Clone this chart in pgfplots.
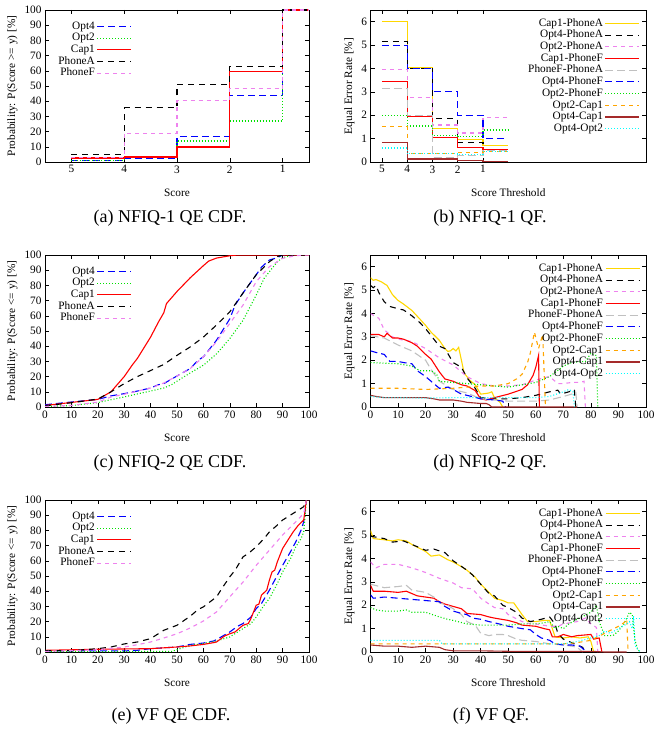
\documentclass[border=0pt]{standalone}
\usepackage{fontspec}
\setmainfont{Liberation Serif}
\usepackage{pgfplots}
\pgfplotsset{compat=1.18}

\definecolor{gpblue}{RGB}{0,0,255}
\definecolor{gpgreen}{RGB}{0,225,0}
\definecolor{gpred}{RGB}{255,0,0}
\definecolor{gpviolet}{RGB}{238,130,238}
\definecolor{gpgold}{RGB}{255,215,0}
\definecolor{gpgray}{RGB}{192,192,192}
\definecolor{gporange}{RGB}{255,165,0}
\definecolor{gpbrown}{RGB}{165,42,42}
\definecolor{gpcyan}{RGB}{0,255,255}

% line styles (tikz level, so the legend images get them too)
\tikzset{
  s-opt4/.style={gpblue, dash pattern=on 7pt off 4pt},
  s-opt2/.style={gpgreen, dash pattern=on 1pt off 2pt},
  s-cap1/.style={gpred},
  s-phonea/.style={black, dash pattern=on 6pt off 5pt},
  s-phonef/.style={gpviolet, dash pattern=on 4pt off 4pt},
  p-capa/.style={gpgold},
  p-ofpa/.style={black, dash pattern=on 6pt off 5pt},
  p-otpa/.style={gpviolet, dash pattern=on 4pt off 4pt},
  p-capf/.style={gpred},
  p-pfpa/.style={gpgray, dash pattern=on 8pt off 4pt},
  p-ofpf/.style={gpblue, dash pattern=on 7pt off 4pt},
  p-otpf/.style={gpgreen, dash pattern=on 1pt off 2pt},
  p-otca/.style={gporange, dash pattern=on 4pt off 4pt},
  p-ofca/.style={gpbrown},
  p-ofot/.style={gpcyan, dash pattern=on 1pt off 2pt},
}

\pgfplotsset{
  legend image code/.code={\draw[line width=1.1pt,#1] (0pt,0pt) -- (34pt,0pt);},
  panel/.style={
    scale only axis, anchor=north west, height=152pt,
    /pgf/number format/assume math mode=true,
    font=\fontsize{11.3}{12}\selectfont,
    major tick length=4pt,
    tick style={black, line width=0.5pt},
    axis line style={line width=0.6pt},
    every axis plot/.append style={line width=1.1pt},
    legend plot pos=right,
    legend cell align=right,
    legend style={draw=none, fill=none, font=\fontsize{11.3}{12}\selectfont,
      column sep=1pt,
      nodes={inner sep=1pt, text height=7.6pt, text depth=2.1pt}},
    xlabel style={yshift=-9pt},
  },
  cdf/.style={panel, width=264pt,
    legend style={at={(0.035,0.945)}, anchor=north west}},
  qf/.style={panel, width=275.5pt, ymin=0, ymax=6.5, ytick={0,1,...,6},
    ylabel={Equal Error Rate [\%]}, xlabel={Score Threshold},
    legend style={at={(0.99,0.965)}, anchor=north east}},
}

\begin{document}
\begin{tikzpicture}
\useasboundingbox (0pt,0pt) rectangle (655pt,-730pt);

% (a) NFIQ-1 QE CDF
\begin{axis}[cdf, at={(45pt,-10pt)}, x dir=reverse, xmin=0.5, xmax=5.5,
  ymin=0, ymax=100, xtick={1,2,3,4,5}, ytick={0,10,...,100},
  xlabel={Score}, ylabel={Probability: P(Score >= y) [\%]}]
\addplot[s-opt4, const plot] coordinates {(5,1.1)(4,2.4)(3,16.5)(2,44)(1,100)(0.5,100)};
\addlegendentry{Opt4}
\addplot[s-opt2, const plot] coordinates {(5,0.8)(4,3.5)(3,13.8)(2,27)(1,100)(0.5,100)};
\addlegendentry{Opt2}
\addplot[s-cap1, const plot] coordinates {(5,2.6)(4,3.3)(3,9.9)(2,59.6)(1,100)(0.5,100)};
\addlegendentry{Cap1}
\addplot[s-phonea, const plot] coordinates {(5,4.8)(4,35.6)(3,51)(2,63)(1,100)(0.5,100)};
\addlegendentry{PhoneA}
\addplot[s-phonef, const plot] coordinates {(5,2.9)(4,18.7)(3,40.2)(2,48.1)(1,100)(0.5,100)};
\addlegendentry{PhoneF}
\end{axis}

% (b) NFIQ-1 QF
\begin{axis}[qf, at={(370.5pt,-10pt)}, x dir=reverse, xmin=-5.45, xmax=5.45,
  xtick={1,2,3,4,5}]
\addplot[p-capa, const plot] coordinates {(5,6.0)(4,4.05)(3,1.45)(2,0.95)(1,0.7)(0,0.7)};
\addlegendentry{Cap1-PhoneA}
\addplot[p-ofpa, const plot] coordinates {(5,5.16)(4,4.0)(3,1.85)(2,0.85)(1,0.55)(0,0.55)};
\addlegendentry{Opt4-PhoneA}
\addplot[p-otpa, const plot] coordinates {(5,3.96)(4,2.75)(3,1.58)(2,1.24)(1,1.9)(0,1.9)};
\addlegendentry{Opt2-PhoneA}
\addplot[p-capf, const plot] coordinates {(5,3.45)(4,1.95)(3,1.03)(2,0.61)(1,0.53)(0,0.53)};
\addlegendentry{Cap1-PhoneF}
\addplot[p-pfpa, const plot] coordinates {(5,3.13)(4,2.0)(3,0.21)(2,0.27)(1,0.48)(0,0.48)};
\addlegendentry{PhoneF-PhoneA}
\addplot[p-ofpf, const plot] coordinates {(5,5.0)(4,4.0)(3,3.0)(2,2.0)(1,1.0)(0,1.0)};
\addlegendentry{Opt4-PhoneF}
\addplot[p-otpf, const plot] coordinates {(5,2.0)(4,1.54)(3,1.15)(2,1.1)(1,1.37)(0,1.37)};
\addlegendentry{Opt2-PhoneF}
\addplot[p-otca, const plot] coordinates {(5,1.5)(4,0.36)(3,0.38)(2,0.42)(1,0.46)(0,0.46)};
\addlegendentry{Opt2-Cap1}
\addplot[p-ofca, const plot] coordinates {(5,0.83)(4,0.13)(3,0.13)(2,0.06)(1,0.0)(0,0.0)};
\addlegendentry{Opt4-Cap1}
\addplot[p-ofot, const plot] coordinates {(5,0.6)(4,0.36)(3,0.36)(2,0.31)(1,0.43)(0,0.43)};
\addlegendentry{Opt4-Opt2}
\end{axis}

% (c) NFIQ-2 QE CDF
\begin{axis}[cdf, at={(45pt,-255pt)}, xmin=0, xmax=100, ymin=0, ymax=100,
  xtick={0,10,...,100}, ytick={0,10,...,100},
  xlabel={Score}, ylabel={Probability: P(Score <= y) [\%]}]
\addplot[s-opt4] coordinates {(0,1.5)(10,3.3)(20,5)(25,7.3)(30,8.8)(35,10.5)(40,12.5)(43,14.7)(45,15.4)(50,20.4)(55,25.3)(58,30.8)(60,33)(65,44)(70,58)(72,67)(75,75)(80,87)(82,92)(85,96.7)(88,98.2)(90,100)(100,100)};
\addlegendentry{Opt4}
\addplot[s-opt2] coordinates {(0,0.4)(10,0.9)(20,2.9)(25,4.8)(30,6.6)(35,8.6)(40,10.5)(45,12.5)(48,14.7)(50,17)(55,22.4)(60,27.5)(65,35)(70,45)(75,57)(80,73.6)(83,84.6)(85,89)(88,95.6)(90,98.2)(93,99.6)(95,100)(100,100)};
\addlegendentry{Opt2}
\addplot[s-cap1] coordinates {(0,1)(10,3)(20,5)(25,10)(30,20)(33,27.5)(35,32)(40,46)(43,56)(45,62)(46,68)(50,76)(55,85)(60,93)(62,96)(65,98)(70,99.5)(73,100)(100,100)};
\addlegendentry{Cap1}
\addplot[s-phonea] coordinates {(0,0.8)(10,2.8)(20,5.2)(25,10)(30,15.4)(35,20)(40,24)(45,28)(50,34)(55,39.5)(60,46)(65,54)(70,62.6)(75,75)(80,87)(85,95.6)(88,99)(90,100)(100,100)};
\addlegendentry{PhoneA}
\addplot[s-phonef] coordinates {(0,0.4)(10,1)(20,3.2)(25,6.6)(30,8.4)(35,10.5)(40,12.5)(45,15.8)(50,20.4)(55,25.3)(60,33)(65,43)(70,55)(75,67)(80,82.4)(85,92.3)(90,97.8)(95,99.6)(100,100)};
\addlegendentry{PhoneF}
\end{axis}

% (d) NFIQ-2 QF
\begin{axis}[qf, at={(370.5pt,-255pt)}, xmin=0, xmax=100, xtick={0,10,...,100}]
\addplot[p-capa] coordinates {(0,5.53)(1,5.42)(2,5.45)(4,5.35)(5,5.27)(6,5.2)(8,4.8)(10,4.56)(12,4.4)(15,4.13)(18,3.75)(20,3.49)(22,3.2)(25,2.85)(27,2.5)(28,2.38)(29,2.4)(30,2.5)(31,2.4)(32,2.55)(33,2.0)(34,1.45)(36,1.15)(38,0.95)(40,0.55)(42,0.58)(43,0.6)(44,0.65)(45,0.4)(47,0.2)(48,0.0)};
\addlegendentry{Cap1-PhoneA}
\addplot[p-ofpa] coordinates {(0,5.2)(1,5.1)(2,5.2)(3,4.9)(5,4.5)(7,4.3)(10,4.2)(12,4.15)(15,3.9)(18,3.6)(20,3.35)(22,3.05)(25,2.6)(27,2.5)(29,2.1)(30,1.9)(33,1.7)(35,1.25)(38,0.8)(40,0.4)(45,0.35)(50,0.35)(55,0.4)(60,0.5)(65,0.65)(68,0.72)(69,0.55)(72,0.65)(74,0.75)(74.5,0.0)};
\addlegendentry{Opt4-PhoneA}
\addplot[p-otpa] coordinates {(0,4.0)(2,3.85)(3,3.8)(5,3.3)(8,3.0)(10,2.9)(15,2.8)(20,2.5)(25,2.1)(30,1.8)(35,1.3)(40,1.0)(45,0.9)(50,0.9)(55,0.95)(60,1.15)(63,1.25)(65,1.3)(67,1.1)(68,1.0)(70,1.0)(73,1.05)(76,1.05)(77.5,1.1)(78,0.0)};
\addlegendentry{Opt2-PhoneA}
\addplot[p-capf] coordinates {(0,3.1)(3,3.1)(5,3.0)(6,3.15)(8,2.95)(10,2.95)(12,2.9)(15,2.75)(17,2.6)(20,2.25)(22,2.05)(25,1.5)(27,1.2)(30,1.1)(33,0.95)(35,0.9)(38,0.7)(40,0.35)(42,0.3)(45,0.4)(50,0.55)(55,0.75)(57,0.95)(59,1.35)(60,1.7)(61,2.2)(61.3,0.0)};
\addlegendentry{Cap1-PhoneF}
\addplot[p-pfpa] coordinates {(0,3.05)(5,2.95)(10,2.65)(15,2.4)(20,2.0)(22,1.6)(25,1.1)(30,0.75)(35,0.6)(40,0.35)(45,0.3)(50,0.25)(60,0.25)(65,0.3)(70,0.45)(73,0.55)(74.5,0.65)(75,0.0)};
\addlegendentry{PhoneF-PhoneA}
\addplot[p-ofpf] coordinates {(0,2.4)(3,2.3)(5,2.25)(7,1.95)(10,1.95)(12,1.9)(15,1.85)(17,1.55)(20,1.3)(22,1.1)(25,0.8)(28,0.85)(30,0.75)(33,0.55)(35,0.5)(40,0.35)(45,0.3)(48,0.25)(49,0.0)};
\addlegendentry{Opt4-PhoneF}
\addplot[p-otpf] coordinates {(0,1.9)(10,1.85)(15,1.75)(18,1.55)(22,1.55)(24,1.4)(25,1.1)(30,1.05)(35,1.0)(40,0.95)(45,0.9)(50,0.85)(55,0.95)(60,1.05)(65,1.3)(70,1.75)(73,1.9)(78,1.95)(80,2.3)(82,2.2)(82.5,0.0)};
\addlegendentry{Opt2-PhoneF}
\addplot[p-otca] coordinates {(0,0.8)(10,0.8)(20,0.75)(30,0.8)(35,0.85)(40,0.9)(45,0.9)(50,1.0)(53,1.2)(55,1.4)(57,1.9)(58,2.3)(59.5,3.2)(61,2.5)(62.5,3.1)(63.5,0.0)};
\addlegendentry{Opt2-Cap1}
\addplot[p-ofca] coordinates {(0,0.5)(2,0.45)(5,0.4)(10,0.4)(15,0.4)(20,0.4)(23,0.35)(25,0.3)(30,0.3)(33,0.25)(35,0.2)(40,0.15)(42,0.15)(43,0.1)(44,0.0)(75,0.0)};
\addlegendentry{Opt4-Cap1}
\addplot[p-ofot] coordinates {(0,0.45)(5,0.4)(10,0.4)(20,0.38)(30,0.4)(40,0.4)(50,0.4)(60,0.4)(65,0.45)(70,0.65)(72,0.75)(73.5,0.65)(74,0.0)};
\addlegendentry{Opt4-Opt2}
\end{axis}

% (e) VF QE CDF
\begin{axis}[cdf, at={(45pt,-500pt)}, xmin=0, xmax=100, ymin=0, ymax=100,
  xtick={0,10,...,100}, ytick={0,10,...,100},
  xlabel={Score}, ylabel={Probability: P(Score <= y) [\%]}]
\addplot[s-opt4] coordinates {(0,0.7)(30,0.7)(35,1.1)(40,2.2)(50,3.3)(55,5)(60,5.9)(64,7.3)(66,9.2)(70,13.2)(73,17)(75,18.7)(78,23)(80,28.6)(82,31.9)(85,40.7)(88,50.5)(90,57)(93,66)(95,72.5)(97,80.2)(98,85.7)(99,100)(100,100)};
\addlegendentry{Opt4}
\addplot[s-opt2] coordinates {(0,0.2)(48,0.4)(50,1.5)(55,4.4)(60,5.5)(65,7.3)(70,9.9)(75,15.4)(78,18.7)(80,23)(83,30.8)(85,35.2)(88,45)(90,52.7)(93,61.5)(95,69.2)(97,74.7)(98,79)(99,100)(100,100)};
\addlegendentry{Opt2}
\addplot[s-cap1] coordinates {(0,1.1)(20,1.8)(40,2.2)(50,3.3)(55,4)(60,5)(64,6.2)(65,6.6)(68,10.5)(70,12)(72,13.2)(73,14.7)(75,17.6)(77,18.7)(78,22)(80,30.8)(81,31.4)(82,37.4)(84,40.7)(85,47.3)(86,52.7)(87,53.8)(88,59.3)(90,68.1)(92,73.6)(94,79)(96,83.5)(98,86.8)(98.5,93.4)(99,100)(100,100)};
\addlegendentry{Cap1}
\addplot[s-phonea] coordinates {(0,0.9)(10,0.9)(20,2.2)(25,3.3)(30,5.3)(35,6.6)(40,8.8)(45,14.3)(50,17.6)(55,23.5)(58,28)(60,29.7)(65,36.3)(67,41.8)(70,49.5)(72,53.8)(75,62.6)(77,64.8)(80,69.2)(83,74.7)(85,79)(88,83.5)(90,86.8)(93,90.1)(95,92.3)(98,95.6)(99,100)(100,100)};
\addlegendentry{PhoneA}
\addplot[s-phonef] coordinates {(0,0.4)(20,1.5)(30,3.3)(35,4.8)(40,6.6)(45,9.2)(50,12)(55,15.8)(60,20.4)(65,26.4)(70,36.3)(75,46)(80,57)(85,67)(90,77)(95,85.7)(98,91.2)(99,100)(100,100)};
\addlegendentry{PhoneF}
\end{axis}

% (f) VF QF
\begin{axis}[qf, at={(370.5pt,-500pt)}, xmin=0, xmax=100, xtick={0,10,...,100}]
\addplot[p-capa] coordinates {(0,5.2)(1,4.85)(5,4.8)(8,4.75)(10,4.8)(13,4.75)(15,4.6)(20,4.3)(22,4.1)(25,4.15)(28,3.95)(30,3.85)(33,3.65)(35,3.5)(38,3.2)(40,2.9)(43,2.55)(45,2.3)(48,2.2)(50,2.1)(52,2.1)(55,1.6)(57,1.3)(60,1.3)(63,1.35)(65,1.35)(66,1.0)(67,0.65)(70,0.6)(73,0.65)(76,0.6)(79,0.65)(80,0.45)(81,0.0)};
\addlegendentry{Cap1-PhoneA}
\addplot[p-ofpa] coordinates {(0,4.95)(5,4.85)(8,4.7)(12,4.75)(15,4.6)(20,4.35)(23,4.4)(27,4.25)(30,3.9)(35,3.5)(37,3.3)(40,2.9)(43,2.5)(45,2.4)(48,2.0)(50,1.9)(53,1.7)(55,1.45)(58,1.3)(62,1.4)(65,1.5)(67,1.2)(68,0.8)(70,0.55)(72,0.45)(75,0.3)(77,0.2)(78,0.0)};
\addlegendentry{Opt4-PhoneA}
\addplot[p-otpa] coordinates {(0,3.85)(2,3.6)(5,3.75)(10,3.75)(15,3.6)(20,3.4)(25,3.15)(30,2.95)(33,2.75)(37,2.7)(40,2.3)(43,2.05)(45,1.9)(48,1.85)(50,1.6)(55,1.3)(58,1.2)(60,1.2)(65,1.1)(68,1.1)(70,1.2)(75,1.3)(78,1.45)(80,1.2)(82,1.05)(82.5,0.0)};
\addlegendentry{Opt2-PhoneA}
\addplot[p-capf] coordinates {(0,2.85)(1,2.6)(5,2.6)(10,2.55)(13,2.6)(15,2.5)(17,2.4)(20,2.35)(23,2.3)(25,2.15)(27,2.05)(30,1.95)(33,1.85)(35,1.65)(40,1.6)(43,1.5)(45,1.45)(50,1.35)(53,1.25)(55,1.15)(60,1.1)(63,1.0)(65,0.95)(66,0.65)(68,0.65)(70,0.75)(73,0.65)(75,0.7)(80,0.75)(81,0.55)(83,0.6)(84,0.0)};
\addlegendentry{Cap1-PhoneF}
\addplot[p-pfpa] coordinates {(0,2.9)(5,2.75)(10,2.8)(13,2.85)(15,2.65)(20,2.55)(23,2.35)(25,2.1)(28,2.0)(30,1.85)(33,1.6)(35,1.3)(38,1.15)(40,0.8)(43,0.7)(45,0.75)(48,0.75)(50,0.7)(53,0.55)(55,0.5)(60,0.45)(65,0.35)(70,0.3)(73,0.25)(75,0.2)(77,0.0)};
\addlegendentry{PhoneF-PhoneA}
\addplot[p-ofpf] coordinates {(0,2.45)(1,2.3)(5,2.35)(10,2.3)(15,2.25)(20,2.2)(25,2.15)(27,1.95)(30,1.75)(33,1.65)(35,1.6)(37,1.45)(40,1.4)(43,1.3)(45,1.25)(50,1.1)(55,1.0)(58,0.95)(60,0.75)(62,0.6)(65,0.5)(67,0.35)(70,0.3)(73,0.3)(76,0.25)(78,0.05)};
\addlegendentry{Opt4-PhoneF}
\addplot[p-otpf] coordinates {(0,1.9)(2,1.8)(5,1.75)(10,1.75)(13,1.8)(15,1.7)(20,1.7)(25,1.5)(28,1.4)(30,1.35)(35,1.2)(40,1.15)(45,1.15)(50,1.15)(55,1.2)(60,1.2)(63,1.25)(65,1.3)(67,1.0)(68,1.1)(70,1.0)(72,1.2)(75,1.4)(80,1.7)(82,2.0)(83,1.3)(85,0.7)(88,0.7)(90,0.9)(92,1.2)(94,1.7)(95,1.6)(96,0.5)(97,0.1)(98,0.0)};
\addlegendentry{Opt2-PhoneF}
\addplot[p-otca] coordinates {(0,0.35)(10,0.35)(20,0.35)(30,0.35)(40,0.35)(50,0.35)(60,0.35)(70,0.35)(75,0.4)(80,0.5)(85,0.8)(90,1.1)(92,1.25)(93,1.4)(93.5,0.0)};
\addlegendentry{Opt2-Cap1}
\addplot[p-ofca] coordinates {(0,0.3)(5,0.25)(10,0.25)(15,0.2)(20,0.25)(25,0.2)(27,0.1)(30,0.05)(40,0.05)(50,0.03)(60,0.03)(70,0.03)(80,0.03)(85,0.0)(93,0.0)};
\addlegendentry{Opt4-Cap1}
\addplot[p-ofot] coordinates {(0,0.5)(10,0.5)(20,0.5)(25,0.5)(26,0.35)(40,0.35)(50,0.35)(60,0.35)(70,0.35)(75,0.45)(80,0.6)(83,0.7)(85,0.9)(87,0.8)(90,1.0)(93,1.2)(94,1.3)(95,1.0)(95.5,1.55)(96,0.3)(97,0.1)(98,0.0)};
\addlegendentry{Opt4-Opt2}
\end{axis}

\node[font=\fontsize{18}{20}\selectfont] at (170pt,-218pt) {(a) NFIQ-1 QE CDF.};
\node[font=\fontsize{18}{20}\selectfont] at (490pt,-218pt) {(b) NFIQ-1 QF.};
\node[font=\fontsize{18}{20}\selectfont] at (170pt,-463pt) {(c) NFIQ-2 QE CDF.};
\node[font=\fontsize{18}{20}\selectfont] at (490pt,-463pt) {(d) NFIQ-2 QF.};
\node[font=\fontsize{18}{20}\selectfont] at (171pt,-716pt) {(e) VF QE CDF.};
\node[font=\fontsize{18}{20}\selectfont] at (491pt,-716pt) {(f) VF QF.};
\end{tikzpicture}
\end{document}
